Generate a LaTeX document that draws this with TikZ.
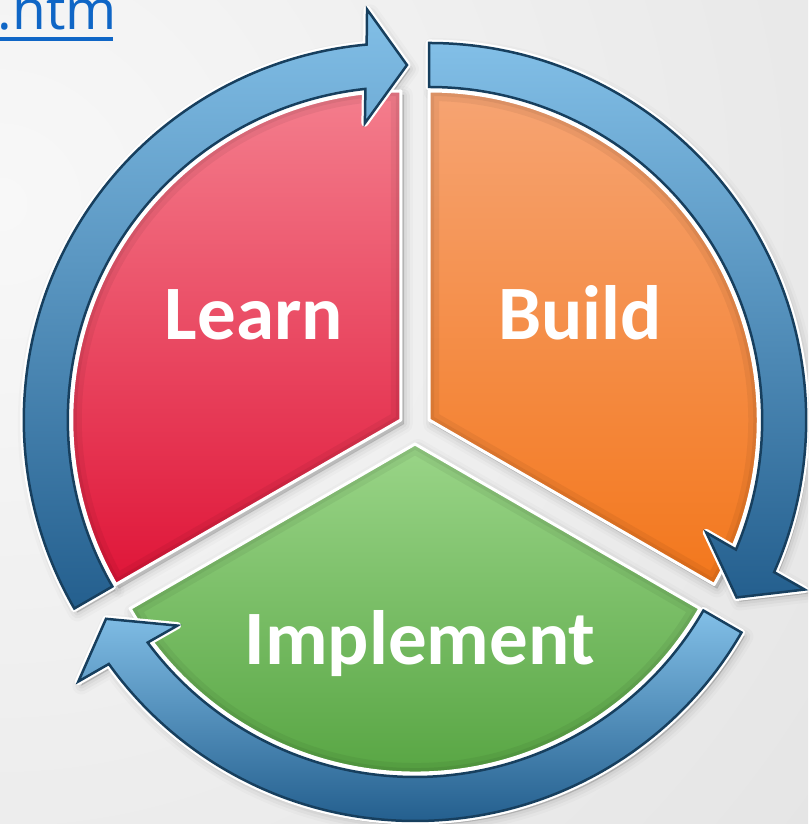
\documentclass[tikz,border=0pt]{standalone}
\usepackage{fontspec}
\setmainfont{Carlito}
\newfontfamily\linkfont{Open Sans}
\usetikzlibrary{calc}
\definecolor{bgin}{HTML}{F8F8F8}
\definecolor{bgout}{HTML}{D3D3D3}
\definecolor{learntop}{HTML}{F47E8D}
\definecolor{learnbot}{HTML}{DF1538}
\definecolor{buildtop}{HTML}{F6A473}
\definecolor{buildbot}{HTML}{F3771C}
\definecolor{impltop}{HTML}{9AD588}
\definecolor{implbot}{HTML}{4F9F3A}
\definecolor{arrtop}{HTML}{82BFE7}
\definecolor{arrbot}{HTML}{245F8E}
\definecolor{arrdark}{HTML}{173F5E}
\definecolor{linkblue}{HTML}{0F66C6}
% sector path: start angle, end angle
\newcommand\sectorpath[2]{(0,0) -- (#1:329) arc[start angle=#1, end angle=#2, radius=329] -- cycle}
% arrow path (clockwise): tail angle, tip angle
\newcommand\arrowpath[2]{(#1:377) arc[start angle=#1, end angle=#2+6.2, radius=377] -- (#2+5.7:412) -- (#2:355) -- (#2+7.9:299) -- (#2+7.1:333) arc[start angle=#2+7.1, end angle=#1, radius=333] -- cycle}
\newcommand\softshadow[2]{%
  \foreach \w/\o in {18/0.02,12/0.03,6/0.04,1/0.05}{%
    \path[shift={#1}, xshift=3, yshift=-4, fill=black, fill opacity=\o, draw=black, draw opacity=\o, line width=\w, line join=round] #2;}}
\newcommand\sector[4]{% center, start, end, shading style
  \shade[shift={#1}, #4] \sectorpath{#2}{#3};
  \begin{scope}
    \clip[shift={#1}] \sectorpath{#2}{#3};
    \draw[shift={#1}, black, opacity=0.05, line width=20] \sectorpath{#2}{#3};
    \draw[shift={#1}, black, opacity=0.06, line width=10] \sectorpath{#2}{#3};
  \end{scope}
  \draw[shift={#1}, white, line width=3, line join=round] \sectorpath{#2}{#3};}
\newcommand\cyclearrow[3]{% center, tail, tip
  \path[shift={#1}, draw=white, line width=7, line join=round] \arrowpath{#2}{#3};
  \shade[shift={#1}, arrowfill] \arrowpath{#2}{#3};}
\tikzset{
  arrowfill/.style={top color=arrtop, bottom color=arrbot, draw=arrdark, line width=2.5, line join=miter},
  lbl/.style={anchor=base, inner sep=0, text=white, font=\bfseries\fontsize{77}{80}\selectfont},
}
\begin{document}
\begin{tikzpicture}[x=1pt,y=1pt]
\useasboundingbox (0,0) rectangle (808,824);
\clip (0,0) rectangle (808,824);
\shade[inner color=bgin, outer color=bgout] (0,620) circle (2000);

\coordinate (C) at (415,396);
\coordinate (L) at (400.8,404);
\coordinate (B) at (429.2,404);
\coordinate (I) at (415,380);

% soft shadows
\softshadow{(L)}{\sectorpath{90}{210}}
\softshadow{(B)}{\sectorpath{-30}{90}}
\softshadow{(I)}{\sectorpath{210}{330}}
\softshadow{(L)}{\arrowpath{210}{89}}
\softshadow{(B)}{\arrowpath{90}{-30}}
\softshadow{(I)}{\arrowpath{330}{209.5}}

% sectors
\sector{(L)}{90}{210}{top color=learntop, bottom color=learnbot}
\sector{(B)}{-30}{90}{top color=buildtop, bottom color=buildbot}
\sector{(I)}{210}{330}{top color=impltop, bottom color=implbot}

% arrows
\cyclearrow{(L)}{210}{89}
\cyclearrow{(B)}{90}{-30}
\cyclearrow{(I)}{330}{209.5}

% labels
\node[lbl] (learn) at (254,484) {Learn};
\node[lbl] (build) at (580,484) {Build};
\node[lbl] (implement) at (420,159) {Implement};

% link text
\node[anchor=base east, inner sep=0, text=linkblue, font=\linkfont\fontsize{55}{55}\selectfont] (link) at (117,794) {.htm};
\draw[linkblue, line width=3.5] ([yshift=-9]link.base west) -- ([xshift=-4,yshift=-9]link.base east);
\end{tikzpicture}
\end{document}
